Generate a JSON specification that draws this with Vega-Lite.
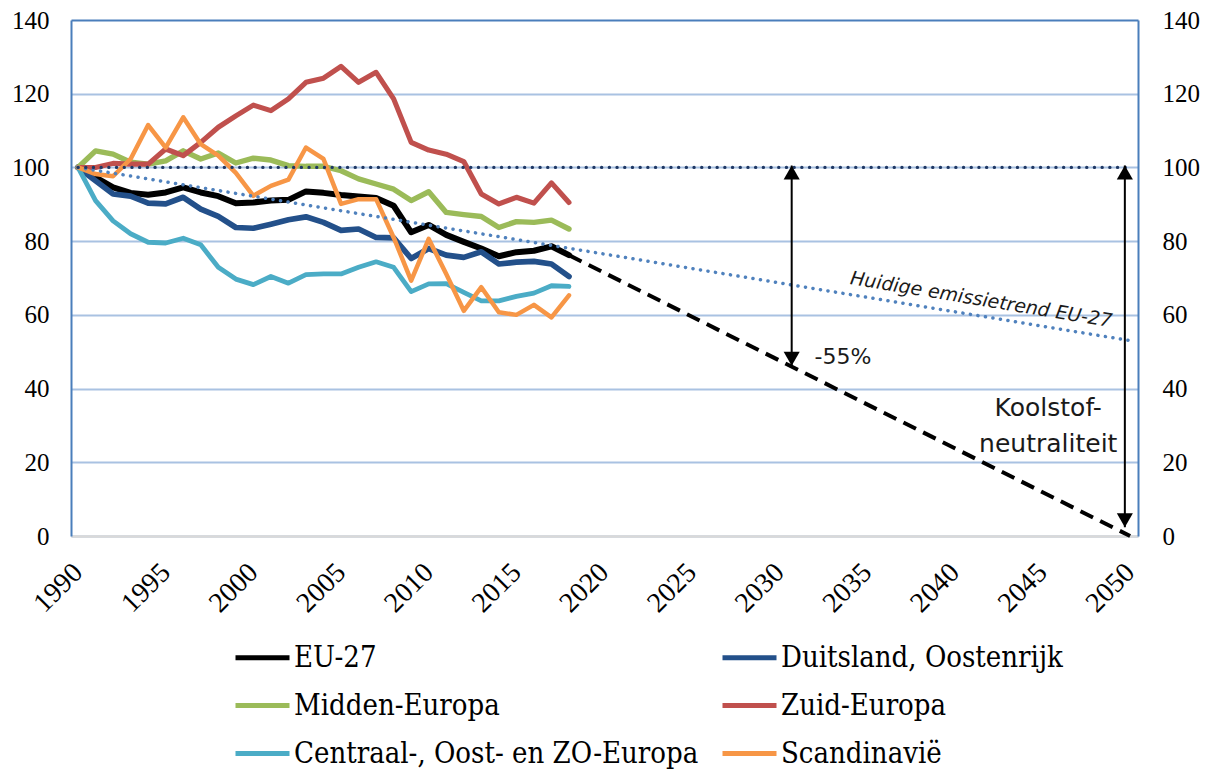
{
  "$schema": "https://vega.github.io/schema/vega-lite/v6.json",
  "width": 1067,
  "height": 516,
  "autosize": {"type": "none"},
  "padding": {"left": 71, "top": 20, "right": 73, "bottom": 234},
  "background": "white",
  "config": {"view": {"stroke": null}, "font": "Liberation Serif"},
  "datasets": {
    "series": [
      {"series": "EU-27", "year": 1990, "value": 100}, {"series": "EU-27", "year": 1991, "value": 97.3}, {"series": "EU-27", "year": 1992, "value": 94.6}, {"series": "EU-27", "year": 1993, "value": 93.1}, {"series": "EU-27", "year": 1994, "value": 92.6}, {"series": "EU-27", "year": 1995, "value": 93.2}, {"series": "EU-27", "year": 1996, "value": 94.6}, {"series": "EU-27", "year": 1997, "value": 93.2}, {"series": "EU-27", "year": 1998, "value": 92.2}, {"series": "EU-27", "year": 1999, "value": 90.3}, {"series": "EU-27", "year": 2000, "value": 90.5}, {"series": "EU-27", "year": 2001, "value": 91.0}, {"series": "EU-27", "year": 2002, "value": 91.2}, {"series": "EU-27", "year": 2003, "value": 93.5}, {"series": "EU-27", "year": 2004, "value": 93.1}, {"series": "EU-27", "year": 2005, "value": 92.5}, {"series": "EU-27", "year": 2006, "value": 92.1}, {"series": "EU-27", "year": 2007, "value": 91.7}, {"series": "EU-27", "year": 2008, "value": 89.6}, {"series": "EU-27", "year": 2009, "value": 82.4}, {"series": "EU-27", "year": 2010, "value": 84.4}, {"series": "EU-27", "year": 2011, "value": 81.7}, {"series": "EU-27", "year": 2012, "value": 79.8}, {"series": "EU-27", "year": 2013, "value": 78.0}, {"series": "EU-27", "year": 2014, "value": 75.9}, {"series": "EU-27", "year": 2015, "value": 77.0}, {"series": "EU-27", "year": 2016, "value": 77.4}, {"series": "EU-27", "year": 2017, "value": 78.6}, {"series": "EU-27", "year": 2018, "value": 76.2},
      {"series": "Duitsland, Oostenrijk", "year": 1990, "value": 100}, {"series": "Duitsland, Oostenrijk", "year": 1991, "value": 96.4}, {"series": "Duitsland, Oostenrijk", "year": 1992, "value": 92.8}, {"series": "Duitsland, Oostenrijk", "year": 1993, "value": 92.2}, {"series": "Duitsland, Oostenrijk", "year": 1994, "value": 90.3}, {"series": "Duitsland, Oostenrijk", "year": 1995, "value": 90.1}, {"series": "Duitsland, Oostenrijk", "year": 1996, "value": 91.9}, {"series": "Duitsland, Oostenrijk", "year": 1997, "value": 88.7}, {"series": "Duitsland, Oostenrijk", "year": 1998, "value": 86.7}, {"series": "Duitsland, Oostenrijk", "year": 1999, "value": 83.7}, {"series": "Duitsland, Oostenrijk", "year": 2000, "value": 83.5}, {"series": "Duitsland, Oostenrijk", "year": 2001, "value": 84.6}, {"series": "Duitsland, Oostenrijk", "year": 2002, "value": 85.8}, {"series": "Duitsland, Oostenrijk", "year": 2003, "value": 86.6}, {"series": "Duitsland, Oostenrijk", "year": 2004, "value": 85.1}, {"series": "Duitsland, Oostenrijk", "year": 2005, "value": 82.9}, {"series": "Duitsland, Oostenrijk", "year": 2006, "value": 83.3}, {"series": "Duitsland, Oostenrijk", "year": 2007, "value": 81.0}, {"series": "Duitsland, Oostenrijk", "year": 2008, "value": 80.9}, {"series": "Duitsland, Oostenrijk", "year": 2009, "value": 75.3}, {"series": "Duitsland, Oostenrijk", "year": 2010, "value": 78.0}, {"series": "Duitsland, Oostenrijk", "year": 2011, "value": 76.2}, {"series": "Duitsland, Oostenrijk", "year": 2012, "value": 75.6}, {"series": "Duitsland, Oostenrijk", "year": 2013, "value": 77.1}, {"series": "Duitsland, Oostenrijk", "year": 2014, "value": 73.8}, {"series": "Duitsland, Oostenrijk", "year": 2015, "value": 74.3}, {"series": "Duitsland, Oostenrijk", "year": 2016, "value": 74.5}, {"series": "Duitsland, Oostenrijk", "year": 2017, "value": 73.8}, {"series": "Duitsland, Oostenrijk", "year": 2018, "value": 70.4},
      {"series": "Midden-Europa", "year": 1990, "value": 100}, {"series": "Midden-Europa", "year": 1991, "value": 104.5}, {"series": "Midden-Europa", "year": 1992, "value": 103.6}, {"series": "Midden-Europa", "year": 1993, "value": 101.4}, {"series": "Midden-Europa", "year": 1994, "value": 100.9}, {"series": "Midden-Europa", "year": 1995, "value": 101.8}, {"series": "Midden-Europa", "year": 1996, "value": 104.5}, {"series": "Midden-Europa", "year": 1997, "value": 102.3}, {"series": "Midden-Europa", "year": 1998, "value": 103.9}, {"series": "Midden-Europa", "year": 1999, "value": 101.2}, {"series": "Midden-Europa", "year": 2000, "value": 102.5}, {"series": "Midden-Europa", "year": 2001, "value": 102.0}, {"series": "Midden-Europa", "year": 2002, "value": 100.5}, {"series": "Midden-Europa", "year": 2003, "value": 100.3}, {"series": "Midden-Europa", "year": 2004, "value": 100.3}, {"series": "Midden-Europa", "year": 2005, "value": 99.1}, {"series": "Midden-Europa", "year": 2006, "value": 96.9}, {"series": "Midden-Europa", "year": 2007, "value": 95.5}, {"series": "Midden-Europa", "year": 2008, "value": 94.1}, {"series": "Midden-Europa", "year": 2009, "value": 91.0}, {"series": "Midden-Europa", "year": 2010, "value": 93.4}, {"series": "Midden-Europa", "year": 2011, "value": 87.8}, {"series": "Midden-Europa", "year": 2012, "value": 87.2}, {"series": "Midden-Europa", "year": 2013, "value": 86.7}, {"series": "Midden-Europa", "year": 2014, "value": 83.7}, {"series": "Midden-Europa", "year": 2015, "value": 85.3}, {"series": "Midden-Europa", "year": 2016, "value": 85.1}, {"series": "Midden-Europa", "year": 2017, "value": 85.7}, {"series": "Midden-Europa", "year": 2018, "value": 83.3},
      {"series": "Zuid-Europa", "year": 1990, "value": 100}, {"series": "Zuid-Europa", "year": 1991, "value": 100}, {"series": "Zuid-Europa", "year": 1992, "value": 101.1}, {"series": "Zuid-Europa", "year": 1993, "value": 100.9}, {"series": "Zuid-Europa", "year": 1994, "value": 100.9}, {"series": "Zuid-Europa", "year": 1995, "value": 105.0}, {"series": "Zuid-Europa", "year": 1996, "value": 103.2}, {"series": "Zuid-Europa", "year": 1997, "value": 106.8}, {"series": "Zuid-Europa", "year": 1998, "value": 110.9}, {"series": "Zuid-Europa", "year": 1999, "value": 114.0}, {"series": "Zuid-Europa", "year": 2000, "value": 116.9}, {"series": "Zuid-Europa", "year": 2001, "value": 115.4}, {"series": "Zuid-Europa", "year": 2002, "value": 118.6}, {"series": "Zuid-Europa", "year": 2003, "value": 123.1}, {"series": "Zuid-Europa", "year": 2004, "value": 124.2}, {"series": "Zuid-Europa", "year": 2005, "value": 127.4}, {"series": "Zuid-Europa", "year": 2006, "value": 123.1}, {"series": "Zuid-Europa", "year": 2007, "value": 125.8}, {"series": "Zuid-Europa", "year": 2008, "value": 118.6}, {"series": "Zuid-Europa", "year": 2009, "value": 106.8}, {"series": "Zuid-Europa", "year": 2010, "value": 104.7}, {"series": "Zuid-Europa", "year": 2011, "value": 103.6}, {"series": "Zuid-Europa", "year": 2012, "value": 101.6}, {"series": "Zuid-Europa", "year": 2013, "value": 92.8}, {"series": "Zuid-Europa", "year": 2014, "value": 90.1}, {"series": "Zuid-Europa", "year": 2015, "value": 91.9}, {"series": "Zuid-Europa", "year": 2016, "value": 90.3}, {"series": "Zuid-Europa", "year": 2017, "value": 95.8}, {"series": "Zuid-Europa", "year": 2018, "value": 90.5},
      {"series": "Centraal-, Oost- en ZO-Europa", "year": 1990, "value": 100}, {"series": "Centraal-, Oost- en ZO-Europa", "year": 1991, "value": 91.0}, {"series": "Centraal-, Oost- en ZO-Europa", "year": 1992, "value": 85.5}, {"series": "Centraal-, Oost- en ZO-Europa", "year": 1993, "value": 82.0}, {"series": "Centraal-, Oost- en ZO-Europa", "year": 1994, "value": 79.7}, {"series": "Centraal-, Oost- en ZO-Europa", "year": 1995, "value": 79.5}, {"series": "Centraal-, Oost- en ZO-Europa", "year": 1996, "value": 80.8}, {"series": "Centraal-, Oost- en ZO-Europa", "year": 1997, "value": 79.0}, {"series": "Centraal-, Oost- en ZO-Europa", "year": 1998, "value": 72.9}, {"series": "Centraal-, Oost- en ZO-Europa", "year": 1999, "value": 69.7}, {"series": "Centraal-, Oost- en ZO-Europa", "year": 2000, "value": 68.2}, {"series": "Centraal-, Oost- en ZO-Europa", "year": 2001, "value": 70.4}, {"series": "Centraal-, Oost- en ZO-Europa", "year": 2002, "value": 68.6}, {"series": "Centraal-, Oost- en ZO-Europa", "year": 2003, "value": 70.9}, {"series": "Centraal-, Oost- en ZO-Europa", "year": 2004, "value": 71.1}, {"series": "Centraal-, Oost- en ZO-Europa", "year": 2005, "value": 71.1}, {"series": "Centraal-, Oost- en ZO-Europa", "year": 2006, "value": 72.9}, {"series": "Centraal-, Oost- en ZO-Europa", "year": 2007, "value": 74.4}, {"series": "Centraal-, Oost- en ZO-Europa", "year": 2008, "value": 72.9}, {"series": "Centraal-, Oost- en ZO-Europa", "year": 2009, "value": 66.3}, {"series": "Centraal-, Oost- en ZO-Europa", "year": 2010, "value": 68.4}, {"series": "Centraal-, Oost- en ZO-Europa", "year": 2011, "value": 68.5}, {"series": "Centraal-, Oost- en ZO-Europa", "year": 2012, "value": 66.1}, {"series": "Centraal-, Oost- en ZO-Europa", "year": 2013, "value": 63.8}, {"series": "Centraal-, Oost- en ZO-Europa", "year": 2014, "value": 63.8}, {"series": "Centraal-, Oost- en ZO-Europa", "year": 2015, "value": 65.0}, {"series": "Centraal-, Oost- en ZO-Europa", "year": 2016, "value": 65.9}, {"series": "Centraal-, Oost- en ZO-Europa", "year": 2017, "value": 67.9}, {"series": "Centraal-, Oost- en ZO-Europa", "year": 2018, "value": 67.7},
      {"series": "Scandinavië", "year": 1990, "value": 100}, {"series": "Scandinavië", "year": 1991, "value": 98.2}, {"series": "Scandinavië", "year": 1992, "value": 97.6}, {"series": "Scandinavië", "year": 1993, "value": 102.3}, {"series": "Scandinavië", "year": 1994, "value": 111.5}, {"series": "Scandinavië", "year": 1995, "value": 105.4}, {"series": "Scandinavië", "year": 1996, "value": 113.6}, {"series": "Scandinavië", "year": 1997, "value": 106.3}, {"series": "Scandinavië", "year": 1998, "value": 103.2}, {"series": "Scandinavië", "year": 1999, "value": 98.5}, {"series": "Scandinavië", "year": 2000, "value": 92.3}, {"series": "Scandinavië", "year": 2001, "value": 95.0}, {"series": "Scandinavië", "year": 2002, "value": 96.7}, {"series": "Scandinavië", "year": 2003, "value": 105.4}, {"series": "Scandinavië", "year": 2004, "value": 102.3}, {"series": "Scandinavië", "year": 2005, "value": 90.1}, {"series": "Scandinavië", "year": 2006, "value": 91.4}, {"series": "Scandinavië", "year": 2007, "value": 91.4}, {"series": "Scandinavië", "year": 2008, "value": 81.0}, {"series": "Scandinavië", "year": 2009, "value": 69.3}, {"series": "Scandinavië", "year": 2010, "value": 80.6}, {"series": "Scandinavië", "year": 2011, "value": 71.1}, {"series": "Scandinavië", "year": 2012, "value": 61.1}, {"series": "Scandinavië", "year": 2013, "value": 67.5}, {"series": "Scandinavië", "year": 2014, "value": 60.7}, {"series": "Scandinavië", "year": 2015, "value": 60.0}, {"series": "Scandinavië", "year": 2016, "value": 62.7}, {"series": "Scandinavië", "year": 2017, "value": 59.3}, {"series": "Scandinavië", "year": 2018, "value": 65.3}
    ],
    "projection": [{"year": 2018, "value": 76.2}, {"year": 2050, "value": 0}],
    "trend": [{"year": 1990, "value": 100}, {"year": 2050, "value": 53}],
    "baseline": [{"year": 1990, "value": 100}, {"year": 2050, "value": 100}],
    "arrows": [{"year": 2030.7, "top": 100.5, "bottom": 46.2}, {"year": 2049.7, "top": 100.5, "bottom": 2.4}],
    "heads": [{"year": 2030.7, "value": 98.6, "dir": "up"}, {"year": 2030.7, "value": 48.1, "dir": "down"}, {"year": 2049.7, "value": 98.6, "dir": "up"}, {"year": 2049.7, "value": 4.3, "dir": "down"}]
  },
  "resolve": {"axis": {"y": "independent"}},
  "layer": [
    {
      "data": {"name": "series"},
      "mark": {"type": "line", "strokeJoin": "round", "strokeCap": "round"},
      "encoding": {
        "x": {"field": "year", "type": "quantitative",
          "scale": {"domain": [1989.6, 2050.45], "nice": false, "zero": false},
          "axis": {"values": [1990, 1995, 2000, 2005, 2010, 2015, 2020, 2025, 2030, 2035, 2040, 2045, 2050], "format": "d", "title": null, "grid": false, "ticks": false, "labelAngle": -45, "labelAlign": "right", "labelBaseline": "middle", "labelPadding": 32, "labelFont": "Liberation Serif", "labelFontSize": 28, "labelColor": "#000000", "domainColor": "#D9D9D9", "domainWidth": 2.5, "labelOverlap": false, "labelBound": false, "labelFlush": false}},
        "y": {"field": "value", "type": "quantitative",
          "scale": {"domain": [0, 140], "nice": false},
          "axis": {"orient": "left", "values": [0, 20, 40, 60, 80, 100, 120, 140], "title": null, "ticks": false, "grid": true,
            "gridColor": {"condition": {"test": "datum.value === 140", "value": "#4A7EBB"}, "value": "#A9C2E2"}, "gridWidth": 1.8,
            "domainColor": "#4A7EBB", "domainWidth": 2, "labelPadding": 22, "labelFont": "Liberation Serif", "labelFontSize": 25, "labelColor": "#000000", "labelFlush": false, "labelOverlap": false}},
        "color": {"field": "series", "type": "nominal",
          "scale": {"domain": ["EU-27", "Midden-Europa", "Centraal-, Oost- en ZO-Europa", "Duitsland, Oostenrijk", "Zuid-Europa", "Scandinavië"],
            "range": ["#000000", "#9BBB59", "#4BACC6", "#23508A", "#C0504D", "#F79646"]},
          "legend": {"orient": "none", "legendX": 186, "legendY": 620, "columns": 2, "title": null,
            "symbolType": "M-2.6,0H1", "symbolSize": 900, "symbolStrokeWidth": 5,
            "labelFont": "DejaVu Serif Condensed, Liberation Serif", "labelFontSize": 29, "labelColor": "#000000", "labelLimit": 0,
            "rowPadding": 15, "columnPadding": 13, "labelOffset": 2, "padding": 0}},
        "strokeWidth": {"field": "series", "type": "nominal",
          "scale": {"domain": ["EU-27", "Duitsland, Oostenrijk", "Midden-Europa", "Zuid-Europa", "Centraal-, Oost- en ZO-Europa", "Scandinavië"],
            "range": [6, 4.5, 4.5, 4.5, 4.5, 4.5]}, "legend": null}
      }
    },
    {
      "data": {"name": "projection"},
      "mark": {"type": "line", "color": "#000000", "strokeWidth": 4, "strokeDash": [14, 8]},
      "encoding": {"x": {"field": "year", "type": "quantitative"}, "y": {"field": "value", "type": "quantitative", "axis": null}}
    },
    {
      "data": {"name": "trend"},
      "mark": {"type": "line", "color": "#4F81BD", "strokeWidth": 3.5, "strokeDash": [0.1, 7.5], "strokeCap": "round"},
      "encoding": {"x": {"field": "year", "type": "quantitative"}, "y": {"field": "value", "type": "quantitative", "axis": null}}
    },
    {
      "data": {"name": "baseline"},
      "mark": {"type": "line", "color": "#1F3864", "strokeWidth": 3.3, "strokeDash": [0.1, 7.6], "strokeCap": "round"},
      "encoding": {"x": {"field": "year", "type": "quantitative"},
        "y": {"field": "value", "type": "quantitative",
          "axis": {"orient": "right", "values": [0, 20, 40, 60, 80, 100, 120, 140], "title": null, "ticks": false, "grid": false, "domainColor": "#4A7EBB", "domainWidth": 2, "labelPadding": 24, "labelFont": "Liberation Serif", "labelFontSize": 25, "labelColor": "#000000", "labelFlush": false, "labelOverlap": false}}}
    },
    {
      "data": {"name": "arrows"},
      "mark": {"type": "rule", "color": "#000000", "strokeWidth": 2},
      "encoding": {"x": {"field": "year", "type": "quantitative"}, "y": {"field": "top", "type": "quantitative", "axis": null}, "y2": {"field": "bottom"}}
    },
    {
      "data": {"name": "heads"},
      "mark": {"type": "point", "filled": true, "color": "#000000", "opacity": 1, "size": 196, "strokeWidth": 0},
      "encoding": {"x": {"field": "year", "type": "quantitative"}, "y": {"field": "value", "type": "quantitative", "axis": null},
        "shape": {"field": "dir", "type": "nominal", "scale": {"domain": ["up", "down"], "range": ["M0,-1L1.15,1L-1.15,1Z", "M0,1L1.15,-1L-1.15,-1Z"]}, "legend": null}}
    },
    {
      "data": {"values": [{"year": 2032.0, "value": 48.6, "label": "-55%"}]},
      "mark": {"type": "text", "align": "left", "baseline": "middle", "font": "DejaVu Sans", "fontSize": 22, "color": "#1a1a1a"},
      "encoding": {"x": {"field": "year", "type": "quantitative"}, "y": {"field": "value", "type": "quantitative", "axis": null}, "text": {"field": "label"}}
    },
    {
      "data": {"values": [{"year": 2045.33, "value": 32.6, "label": "Koolstof-\nneutraliteit"}]},
      "mark": {"type": "text", "align": "center", "baseline": "alphabetic", "font": "DejaVu Sans", "fontSize": 25, "lineBreak": "\n", "lineHeight": 36, "color": "#1a1a1a"},
      "encoding": {"x": {"field": "year", "type": "quantitative"}, "y": {"field": "value", "type": "quantitative", "axis": null}, "text": {"field": "label"}}
    },
    {
      "data": {"values": [{"year": 2041.45, "value": 62.5, "label": "Huidige emissietrend EU-27"}]},
      "mark": {"type": "text", "align": "center", "baseline": "alphabetic", "font": "DejaVu Sans", "fontSize": 19, "fontStyle": "italic", "angle": 9.4, "color": "#1a1a1a"},
      "encoding": {"x": {"field": "year", "type": "quantitative"}, "y": {"field": "value", "type": "quantitative", "axis": null}, "text": {"field": "label"}}
    }
  ]
}
